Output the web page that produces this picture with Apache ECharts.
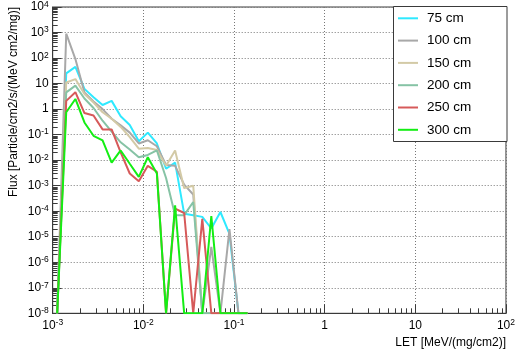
<!DOCTYPE html>
<html>
<head>
<meta charset="utf-8">
<script src="https://cdn.jsdelivr.net/npm/echarts@6/dist/echarts.min.js"></script>
<style>
  html, body { margin: 0; padding: 0; background: #fff; }
  #chart { width: 518px; height: 349px; }
</style>
</head>
<body>
<div id="chart"></div>
<script>
// LET bin centres (log-spaced, 10 bins per decade)
const LET_BINS = [0.00112, 0.00141, 0.00178, 0.00224, 0.00282, 0.00355, 0.00447, 0.00562,
  0.00708, 0.00891, 0.0112, 0.0141, 0.0178, 0.0224, 0.0282, 0.0355, 0.0447, 0.0562,
  0.0708, 0.0891, 0.112, 0.141];

// Flux per depth; 0 = empty bin
const FLUX_75 = [0, 25, 45, 6.2, 2.9, 1.45, 2.1, 0.52, 0.24, 0.055, 0.12, 0.045, 0.0046, 0.008,
  8e-5, 7e-5, 6e-5, 2.1e-5, 9.3e-5, 1.3e-5, 0, 0];
const FLUX_100 = [0, 900, 91, 4.5, 2.0, 1.0, 0.42, 0.23, 0.12, 0.045, 0.06, 0.035, 0.0065, 0.006,
  1.1e-3, 4.5e-4, 0, 4e-6, 0, 2e-5, 0, 0];
const FLUX_150 = [0, 11, 15, 3.9, 1.8, 0.75, 0.42, 0.2, 0.08, 0.028, 0.03, 0.025, 0.006, 0.024,
  8e-4, 1.0e-3, 0, 0, 0, 0, 0, 0];
const FLUX_200 = [0, 4.5, 8.3, 2.6, 1.1, 0.35, 0.13, 0.05, 0.026, 0.013, 0.016, 0.024, 0.002, 7e-5,
  7e-5, 2.3e-4, 0, 0, 0, 0, 0, 0];
const FLUX_250 = [0, 2.1, 4.6, 0.7, 0.56, 0.16, 0.16, 0.02, 0.003, 0.0015, 0.006, 0.0035, 0, 1.26e-4,
  8.5e-5, 0, 5e-5, 0, 0, 0, 0, 0];
const FLUX_300 = [0, 0.75, 2.5, 0.3, 0.09, 0.059, 0.008, 0.024, 0.0072, 0.0022, 0.013, 0.003, 0, 1.7e-4,
  0, 0, 0, 6.5e-5, 0, 0, 0, 0];

const SERIES_NAMES = ['75 cm', '100 cm', '150 cm', '200 cm', '250 cm', '300 cm'];
const SERIES_VALUES = [FLUX_75, FLUX_100, FLUX_150, FLUX_200, FLUX_250, FLUX_300];
const SERIES_COLORS = ['#2ee9ff', '#a8a8a8', '#d3caa6', '#86c3a5', '#d65a5a', '#14ee14'];

// Axis ranges (decade exponents) and titles
const X_EXP = [-3, -2, -1, 0, 1, 2];
const Y_EXP = [-8, -7, -6, -5, -4, -3, -2, -1, 0, 1, 2, 3, 4];
const X_TITLE = 'LET [MeV/(mg/cm2)]';
const Y_TITLE = 'Flux [Particle/cm2/s/(MeV cm2/mg)]';

const FONT = '"Liberation Sans", Arial, Helvetica, sans-serif';
const FLOOR = Math.pow(10, Y_EXP[0]);   // empty bins sit on the frame bottom

const majors = exps => exps.map(e => Math.pow(10, e));
const minors = exps => {
  const out = [];
  for (let i = 0; i < exps.length - 1; i++) {
    for (let m = 2; m <= 9; m++) out.push(m * Math.pow(10, exps[i]));
  }
  return out;
};
const powLabel = v => {
  const e = Math.round(Math.log10(v));
  if (e === 0) return '{b|1}';
  if (e === 1) return '{b|10}';
  return '{b|10}{s|' + e + '}';
};
const rich = {
  b: { fontSize: 12, fontFamily: FONT, color: '#000', lineHeight: 14 },
  s: { fontSize: 8.5, fontFamily: FONT, color: '#000', lineHeight: 8, verticalAlign: 'top', padding: [0, 0, 6, 0] }
};

const frameColor = '#3a3a3a';
const gridLine = { show: true, lineStyle: { color: '#777', width: 1, type: [1, 2] } };

const chart = echarts.init(document.getElementById('chart'), null, { renderer: 'canvas' });

chart.setOption({
  animation: false,
  backgroundColor: '#fff',
  grid: { left: 52.7, right: 10.7, top: 6.1, bottom: 35.7, show: true, borderColor: frameColor, borderWidth: 1 },
  xAxis: [{
    type: 'log', logBase: 10,
    min: majors(X_EXP)[0], max: majors(X_EXP)[X_EXP.length - 1],
    position: 'bottom',
    axisLine: { show: true, lineStyle: { color: frameColor, width: 1 } },
    axisTick: { show: true, inside: true, length: 9, customValues: majors(X_EXP), lineStyle: { color: frameColor } },
    axisLabel: { show: true, margin: 5, customValues: majors(X_EXP), formatter: powLabel, rich: rich },
    splitLine: gridLine
  }, {
    type: 'log', logBase: 10,
    min: majors(X_EXP)[0], max: majors(X_EXP)[X_EXP.length - 1],
    position: 'bottom',
    axisLine: { show: false },
    axisTick: { show: true, inside: true, length: 5, customValues: minors(X_EXP), lineStyle: { color: frameColor } },
    axisLabel: { show: false },
    splitLine: { show: false }
  }],
  yAxis: [{
    type: 'log', logBase: 10,
    min: majors(Y_EXP)[0], max: majors(Y_EXP)[Y_EXP.length - 1],
    position: 'left',
    axisLine: { show: true, lineStyle: { color: frameColor, width: 1 } },
    axisTick: { show: true, inside: true, length: 9, customValues: majors(Y_EXP), lineStyle: { color: frameColor } },
    axisLabel: { show: true, margin: 4, customValues: majors(Y_EXP), formatter: powLabel, rich: rich },
    splitLine: gridLine
  }, {
    type: 'log', logBase: 10,
    min: majors(Y_EXP)[0], max: majors(Y_EXP)[Y_EXP.length - 1],
    position: 'left',
    axisLine: { show: false },
    axisTick: { show: true, inside: true, length: 5, customValues: minors(Y_EXP), lineStyle: { color: frameColor } },
    axisLabel: { show: false },
    splitLine: { show: false }
  }],
  legend: {
    orient: 'vertical',
    left: 397, top: 11.3,
    padding: 0,
    itemWidth: 20, itemHeight: 14, itemGap: 8.3,
    itemStyle: { opacity: 0 },
    textStyle: { fontSize: 13.5, fontFamily: FONT, color: '#000', padding: [0, 0, 0, 4] },
    data: SERIES_NAMES,
    z: 6
  },
  graphic: [
    { type: 'rect', z: 5, shape: { x: 393.5, y: 6.5, width: 113.5, height: 135 },
      style: { fill: '#fff', stroke: frameColor, lineWidth: 1 } },
    { type: 'text', z: 5, x: 506, y: 343,
      style: { text: X_TITLE, font: '12px ' + FONT, fill: '#000', align: 'right', verticalAlign: 'middle' } },
    { type: 'text', z: 5, x: 14, y: 7, rotation: Math.PI / 2,
      style: { text: Y_TITLE, font: '12px ' + FONT, fill: '#000', align: 'right', verticalAlign: 'middle' } }
  ],
  series: SERIES_NAMES.map((name, i) => ({
    name: name,
    type: 'line',
    xAxisIndex: 0, yAxisIndex: 0,
    symbol: 'none',
    clip: true,
    color: SERIES_COLORS[i],
    lineStyle: { width: 2, color: SERIES_COLORS[i] },
    z: 2 + i * 0.01,
    data: LET_BINS.map((x, k) => [x, SERIES_VALUES[i][k] > 0 ? SERIES_VALUES[i][k] : FLOOR])
  }))
});
</script>
</body>
</html>
